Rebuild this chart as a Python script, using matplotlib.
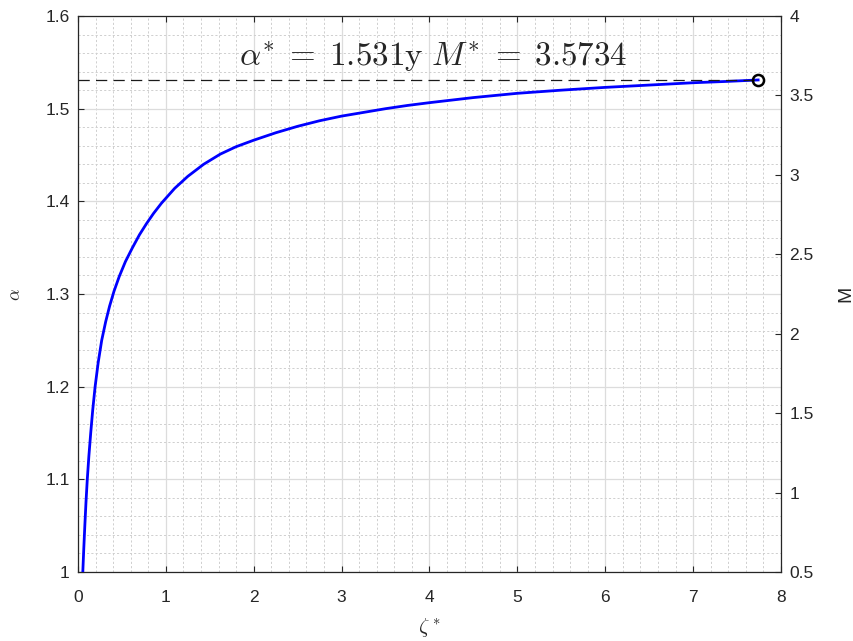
import matplotlib
matplotlib.use("Agg")
import matplotlib.pyplot as plt
from matplotlib.ticker import MultipleLocator

# Optimal-ratio curve: alpha versus zeta*
zeta = [0.055, 0.066, 0.078, 0.091, 0.106, 0.124, 0.145, 0.168, 0.195, 0.23,
        0.27, 0.315, 0.36, 0.41, 0.47, 0.54, 0.62, 0.70, 0.78, 0.86,
        0.95, 1.10, 1.25, 1.43, 1.62, 1.80, 2.0, 2.25, 2.5, 2.75,
        3.0, 3.25, 3.5, 3.75, 4.0, 4.5, 5.0, 5.5, 6.0, 6.5,
        7.0, 7.4, 7.74]
alpha = [1.000, 1.025, 1.050, 1.075, 1.100, 1.125, 1.150, 1.175, 1.200, 1.226,
         1.250, 1.270, 1.287, 1.303, 1.319, 1.335, 1.350, 1.364, 1.376, 1.387,
         1.398, 1.414, 1.427, 1.440, 1.451, 1.459, 1.466, 1.474, 1.481, 1.487,
         1.492, 1.496, 1.500, 1.5035, 1.5065, 1.512, 1.5166, 1.520, 1.523, 1.5255,
         1.528, 1.5295, 1.531]

zeta_opt = 7.74
alpha_opt = 1.531
M_opt = 3.5734

x_ticks = [0, 1, 2, 3, 4, 5, 6, 7, 8]
alpha_ticks = [1.0, 1.1, 1.2, 1.3, 1.4, 1.5, 1.6]
alpha_tick_labels = ["1", "1.1", "1.2", "1.3", "1.4", "1.5", "1.6"]
M_ticks = [0.5, 1, 1.5, 2, 2.5, 3, 3.5, 4]
M_tick_labels = ["0.5", "1", "1.5", "2", "2.5", "3", "3.5", "4"]

plt.rcParams["font.family"] = ["Liberation Sans", "DejaVu Sans"]
plt.rcParams["mathtext.fontset"] = "cm"

DARK = "#262626"
fig = plt.figure(figsize=(8.54, 6.41), dpi=100)
ax = fig.add_axes([0.0913, 0.1076, 0.8232, 0.8674])

ax.set_xlim(0, 8)
ax.set_ylim(1.0, 1.6)
ax.set_xticks(x_ticks)
ax.set_xticklabels([str(t) for t in x_ticks])
ax.set_yticks(alpha_ticks)
ax.set_yticklabels(alpha_tick_labels)
ax.xaxis.set_minor_locator(MultipleLocator(0.2))
ax.yaxis.set_minor_locator(MultipleLocator(0.02))

ax.grid(which="major", color="#dcdcdc", linewidth=0.9, linestyle="-")
ax.grid(which="minor", color="#cfcfcf", linewidth=0.7, linestyle=(0, (2.2, 2.2)))
ax.set_axisbelow(True)

ax.tick_params(which="major", direction="in", length=4.5, width=0.8,
               colors=DARK, labelsize=12.5, top=True, right=False, pad=6)
ax.tick_params(which="minor", length=0, top=False)
ax.tick_params(axis="x", pad=13)
for s in ax.spines.values():
    s.set_color(DARK)
    s.set_linewidth(0.9)

ax.plot(zeta, alpha, color="#0000ff", linewidth=2.0, solid_joinstyle="round", zorder=3)
ax.plot([0, zeta_opt], [alpha_opt, alpha_opt], color="#1a1a1a", linewidth=0.9,
        dashes=(9, 5), zorder=3)
ax.plot([zeta_opt], [alpha_opt], marker="o", markersize=8, markerfacecolor="none",
        markeredgecolor="k", markeredgewidth=1.8, zorder=4)

ax.text(4.04, 1.5455, r"$\alpha^{*}\;=\;1.531\mathrm{y}\ M^{*}\;=\;3.5734$",
        ha="center", va="baseline", fontsize=23.8, color=DARK, zorder=5)

ax.set_xlabel(r"$\zeta^*$", fontsize=15, color=DARK, labelpad=8)
ax.set_ylabel(r"$\alpha$", fontsize=13, color=DARK, labelpad=15)

ax2 = ax.twinx()
ax2.set_ylim(0.5, 4)
ax2.set_yticks(M_ticks)
ax2.set_yticklabels(M_tick_labels)
ax2.tick_params(direction="in", length=4.5, width=0.8, colors=DARK,
                labelsize=12.5, pad=6)
for s in ax2.spines.values():
    s.set_visible(False)
ax2.set_ylabel("M", fontsize=14, color=DARK, rotation=90, labelpad=17)

fig.savefig("out.png", dpi=100)
